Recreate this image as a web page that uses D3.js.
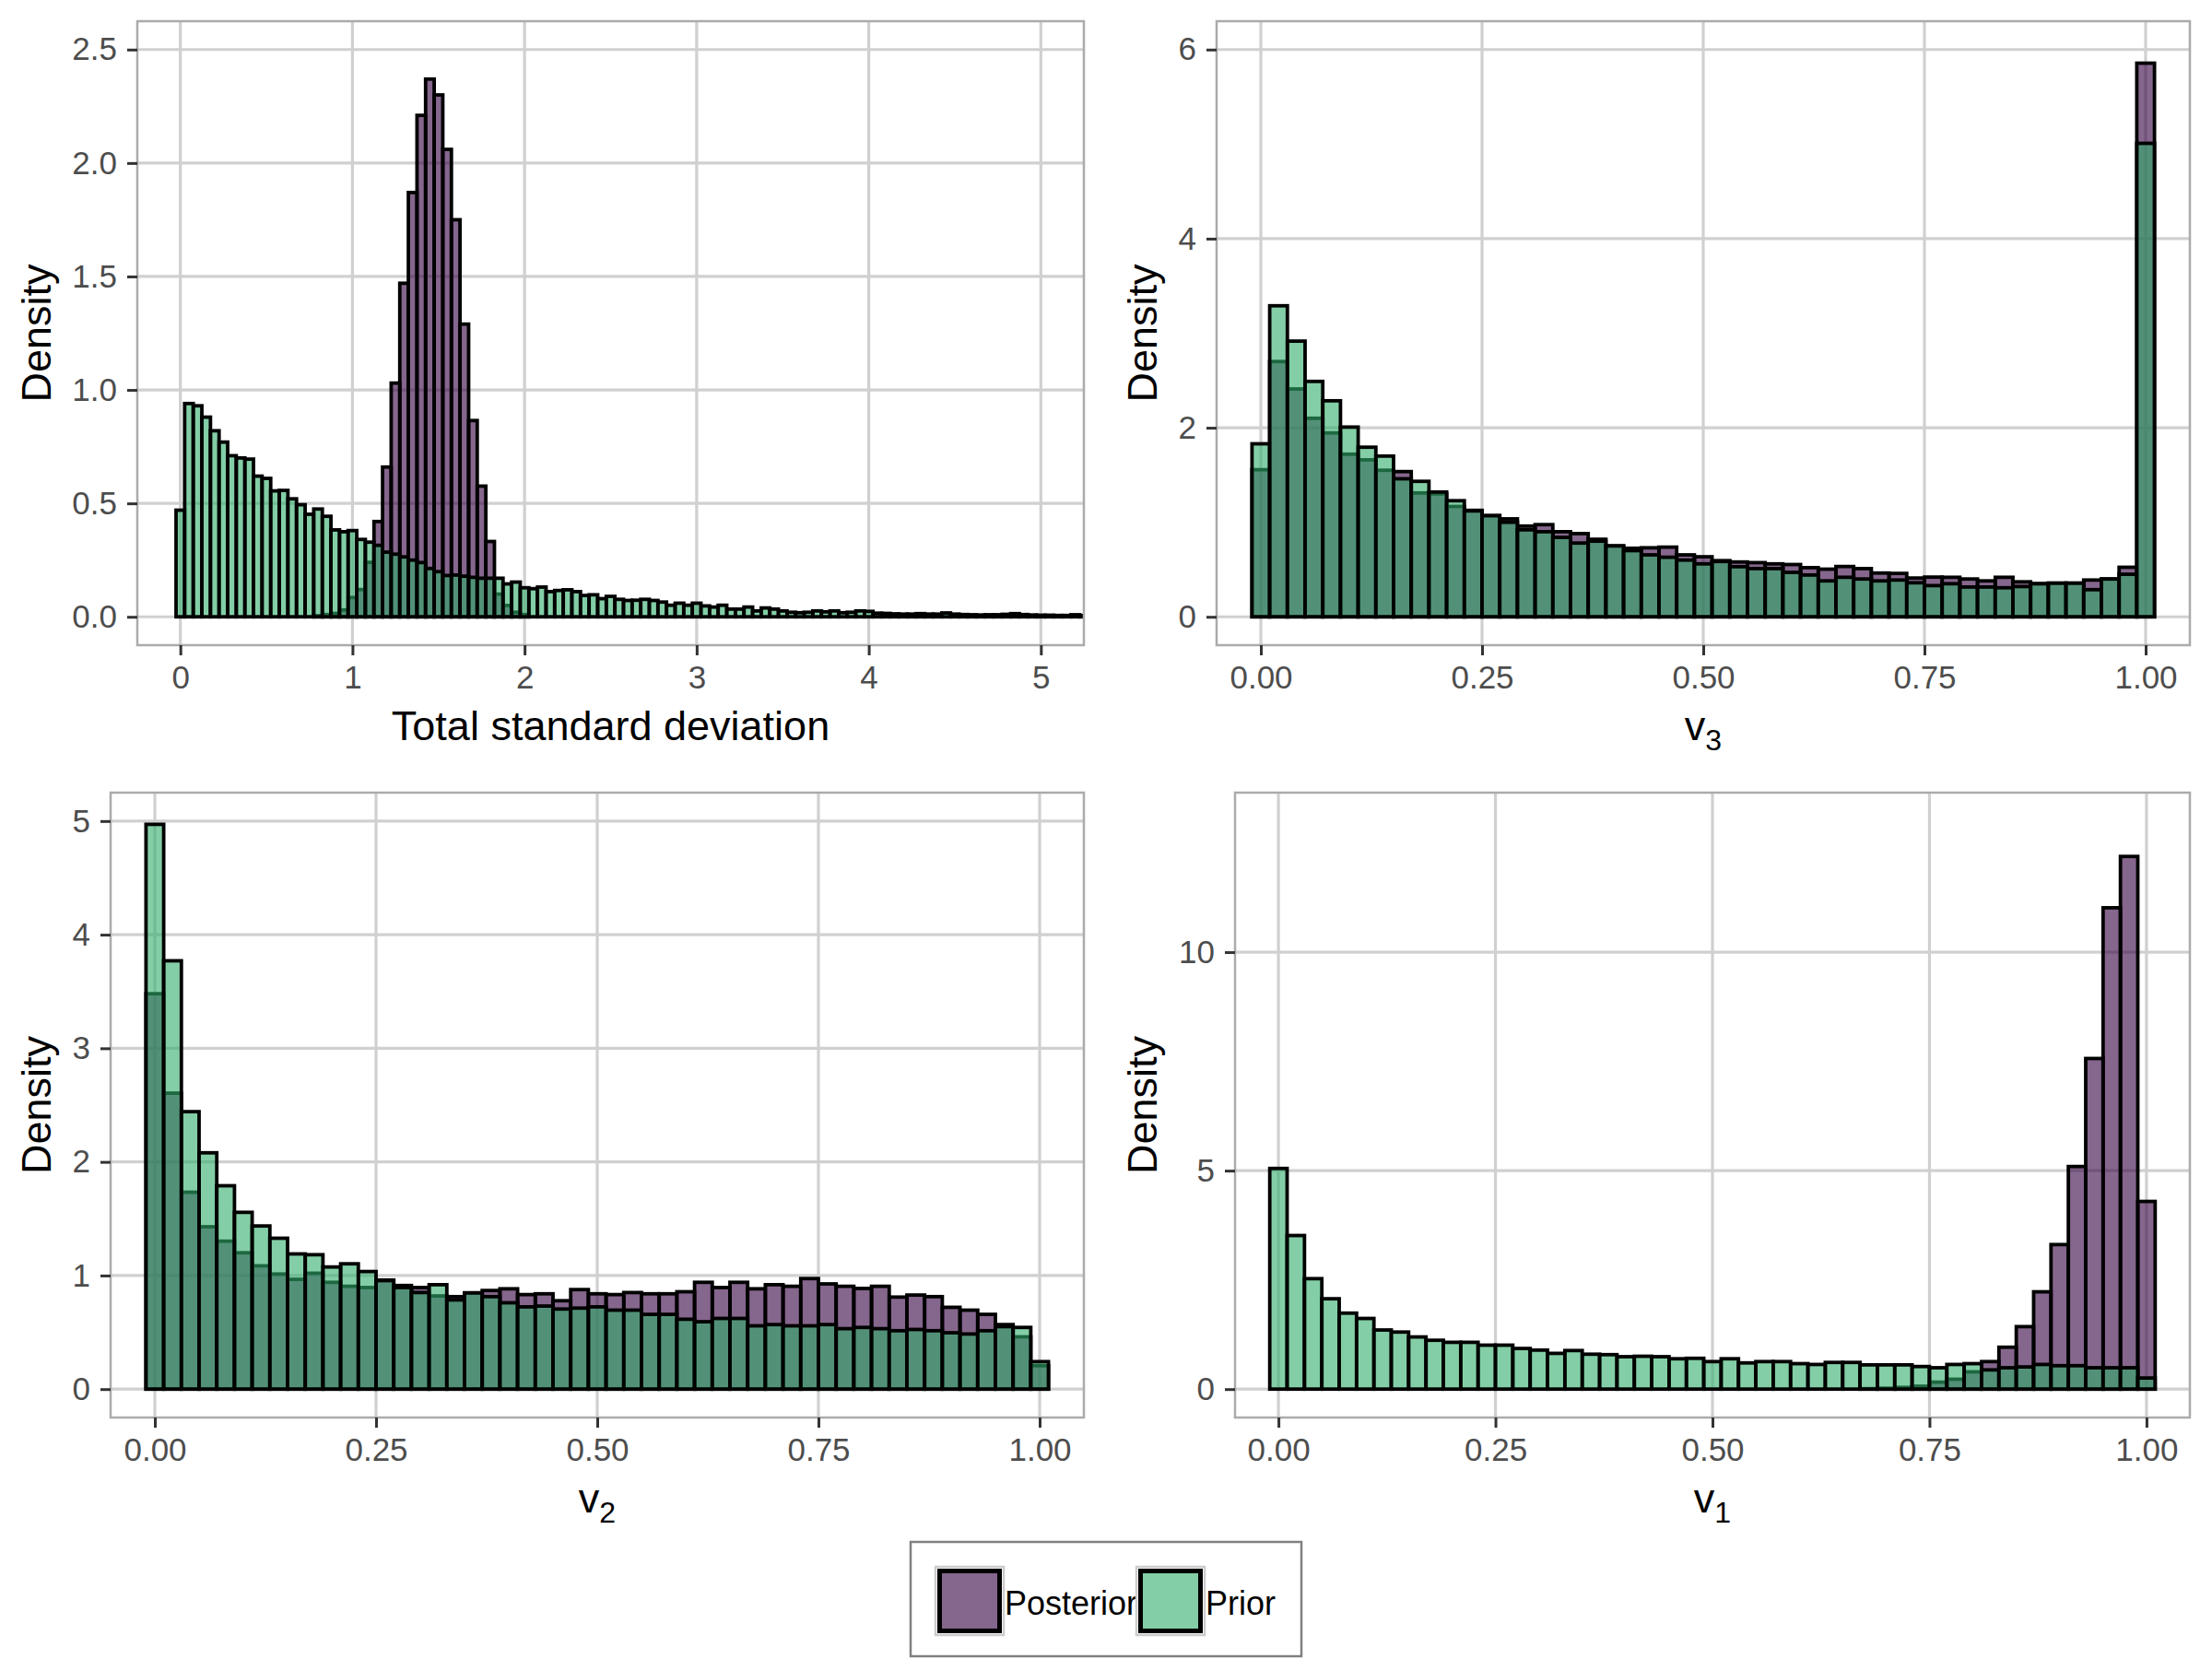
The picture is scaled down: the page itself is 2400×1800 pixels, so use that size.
<!DOCTYPE html>
<html>
<head>
<meta charset="utf-8">
<script src="https://cdn.jsdelivr.net/npm/d3@7"></script>
<style>
  body { margin: 0; background: #fff; }
  svg { display: block; }
  text { font-family: "Liberation Sans", Arial, Helvetica, sans-serif; }
</style>
</head>
<body>
<div id="chart"></div>
<script>
// ---- data (densities) ----
const sdBinWidth = 0.05;
const sdPrior = [
  0.47, 0.94, 0.93, 0.88, 0.82, 0.77, 0.71, 0.70, 0.695, 0.62,
  0.61, 0.555, 0.557, 0.52, 0.494, 0.452, 0.475, 0.443, 0.383, 0.375,
  0.38, 0.341, 0.329, 0.315, 0.285, 0.276, 0.264, 0.25, 0.239, 0.213,
  0.199, 0.182, 0.184, 0.179, 0.174, 0.17, 0.17, 0.17, 0.145, 0.153,
  0.128, 0.124, 0.131, 0.111, 0.116, 0.119, 0.111, 0.094, 0.097, 0.08,
  0.09, 0.077, 0.072, 0.073, 0.077, 0.072, 0.065, 0.051, 0.06, 0.051,
  0.06, 0.048, 0.043, 0.051, 0.034, 0.034, 0.043, 0.026, 0.039, 0.034,
  0.026, 0.02, 0.018, 0.02, 0.026, 0.022, 0.026, 0.018, 0.02, 0.026,
  0.024, 0.016, 0.015, 0.013, 0.012, 0.012, 0.014, 0.012, 0.012, 0.017,
  0.012, 0.01, 0.009, 0.008, 0.009, 0.009, 0.011, 0.014, 0.01, 0.008,
  0.007, 0.007, 0.006, 0.006, 0.009, 0.006
];
const sdPosteriorFirstBin = 16;
const sdPosterior = [
  0.005, 0.01, 0.015, 0.03, 0.085, 0.12, 0.24, 0.42, 0.66, 1.03,
  1.47, 1.87, 2.21, 2.37, 2.30, 2.06, 1.75, 1.29, 0.865, 0.576,
  0.332, 0.10, 0.05, 0.02, 0.01
];

const vBinWidth = 0.02;
const v3Prior = [
  1.83, 3.29, 2.916, 2.49, 2.285, 2.007, 1.794, 1.70, 1.46, 1.433,
  1.32, 1.228, 1.12, 1.07, 1.00, 0.92, 0.90, 0.84, 0.78, 0.80,
  0.75, 0.70, 0.655, 0.63, 0.60, 0.56, 0.585, 0.53, 0.51, 0.51,
  0.47, 0.442, 0.38, 0.418, 0.40, 0.38, 0.389, 0.36, 0.33, 0.35,
  0.315, 0.315, 0.307, 0.32, 0.35, 0.356, 0.356, 0.287, 0.40, 0.45,
  5.008
];
const v3Posterior = [
  1.556, 2.70, 2.41, 2.10, 1.945, 1.72, 1.66, 1.55, 1.536, 1.31,
  1.30, 1.167, 1.126, 1.07, 1.036, 0.96, 0.975, 0.90, 0.88, 0.82,
  0.75, 0.725, 0.73, 0.737, 0.655, 0.635, 0.594, 0.58, 0.573, 0.56,
  0.553, 0.52, 0.504, 0.532, 0.51, 0.463, 0.459, 0.41, 0.42, 0.418,
  0.40, 0.38, 0.418, 0.37, 0.35, 0.356, 0.356, 0.389, 0.40, 0.524,
  5.856
];

const v2Prior = [
  4.971, 3.77, 2.442, 2.08, 1.79, 1.556, 1.436, 1.328, 1.19, 1.183,
  1.075, 1.103, 1.035, 0.955, 0.894, 0.85, 0.919, 0.785, 0.847, 0.814,
  0.76, 0.724, 0.731, 0.705, 0.713, 0.724, 0.695, 0.695, 0.658, 0.658,
  0.615, 0.593, 0.622, 0.622, 0.557, 0.568, 0.557, 0.557, 0.568, 0.532,
  0.543, 0.532, 0.514, 0.525, 0.514, 0.496, 0.485, 0.514, 0.55, 0.543,
  0.242
];
const v2Posterior = [
  3.48, 2.605, 1.733, 1.429, 1.302, 1.20, 1.085, 1.013, 0.966, 1.02,
  0.94, 0.905, 0.894, 0.96, 0.912, 0.894, 0.82, 0.814, 0.847, 0.868,
  0.883, 0.832, 0.839, 0.778, 0.876, 0.839, 0.832, 0.85, 0.839, 0.839,
  0.857, 0.94, 0.894, 0.94, 0.883, 0.919, 0.905, 0.973, 0.926, 0.905,
  0.886, 0.905, 0.81, 0.828, 0.814, 0.72, 0.695, 0.658, 0.568, 0.46,
  0.206
];

const v1Prior = [
  5.05, 3.515, 2.528, 2.068, 1.739, 1.617, 1.353, 1.306, 1.194, 1.118,
  1.071, 1.071, 1.006, 1.006, 0.93, 0.893, 0.818, 0.883, 0.799, 0.789,
  0.742, 0.752, 0.742, 0.695, 0.705, 0.63, 0.695, 0.60, 0.63, 0.63,
  0.583, 0.564, 0.611, 0.611, 0.555, 0.555, 0.555, 0.517, 0.489, 0.564,
  0.583, 0.44, 0.489, 0.508, 0.564, 0.536, 0.536, 0.489, 0.489, 0.489,
  0.254
];
const v1PosteriorFirstBin = 34;
const v1Posterior = [
  0.01, 0.02, 0.04, 0.066, 0.16, 0.226, 0.395, 0.63, 0.959, 1.43,
  2.227, 3.308, 5.094, 7.566, 11.015, 12.19, 4.295
];

const sdTicksX = [0, 1, 2, 3, 4, 5];
const sdTicksY = [0, 0.5, 1, 1.5, 2, 2.5];
const vTicksX = [0, 0.25, 0.5, 0.75, 1];
const v3TicksY = [0, 2, 4, 6];
const v2TicksY = [0, 1, 2, 3, 4, 5];
const v1TicksY = [0, 5, 10];

const seriesNames = ["Posterior", "Prior"];
const seriesColors = { Posterior: "#33003F", Prior: "#31AE6A" };

// ---- layout ----
const W = 2400, H = 1800;
const svg = d3.select("#chart").append("svg").attr("width", W).attr("height", H);

const panels = [
  { key: "sd", left: 149, right: 1176, top: 23, bottom: 700, xDom: [-0.25, 5.25], yDom: [-0.125, 2.625],
    bw: sdBinWidth, prior: sdPrior, post: sdPosterior, postFirst: sdPosteriorFirstBin,
    ticksX: sdTicksX, ticksY: sdTicksY, fx: d3.format("d"), fy: d3.format(".1f"),
    title: "Total standard deviation", sub: null, titleX: 0 },
  { key: "v3", left: 1320, right: 2376, top: 23, bottom: 700, xDom: [-0.05, 1.05], yDom: [-0.3, 6.3],
    bw: vBinWidth, prior: v3Prior, post: v3Posterior, postFirst: 0,
    ticksX: vTicksX, ticksY: v3TicksY, fx: d3.format(".2f"), fy: d3.format("d"),
    title: "v", sub: "3", titleX: 1200 },
  { key: "v2", left: 120, right: 1176, top: 860, bottom: 1538, xDom: [-0.05, 1.05], yDom: [-0.25, 5.25],
    bw: vBinWidth, prior: v2Prior, post: v2Posterior, postFirst: 0,
    ticksX: vTicksX, ticksY: v2TicksY, fx: d3.format(".2f"), fy: d3.format("d"),
    title: "v", sub: "2", titleX: 0 },
  { key: "v1", left: 1340, right: 2376, top: 860, bottom: 1538, xDom: [-0.05, 1.05], yDom: [-0.65, 13.65],
    bw: vBinWidth, prior: v1Prior, post: v1Posterior, postFirst: v1PosteriorFirstBin,
    ticksX: vTicksX, ticksY: v1TicksY, fx: d3.format(".2f"), fy: d3.format("d"),
    title: "v", sub: "1", titleX: 1200 }
];

function drawBars(g, x, y, bw, values, first, color) {
  g.append("g").selectAll("rect").data(values).join("rect")
    .attr("x", (d, i) => x((i + first) * bw - bw / 2))
    .attr("width", (d, i) => x((i + first) * bw + bw / 2) - x((i + first) * bw - bw / 2))
    .attr("y", d => y(d))
    .attr("height", d => y(0) - y(d))
    .attr("fill", color).attr("fill-opacity", 0.6)
    .attr("stroke", "#000").attr("stroke-width", 3.8);
}

panels.forEach(p => {
  const x = d3.scaleLinear().domain(p.xDom).range([p.left, p.right]);
  const y = d3.scaleLinear().domain(p.yDom).range([p.bottom, p.top]);
  const g = svg.append("g");

  // clip
  g.append("clipPath").attr("id", "clip-" + p.key)
    .append("rect").attr("x", p.left).attr("y", p.top)
    .attr("width", p.right - p.left).attr("height", p.bottom - p.top);

  // grid
  const grid = g.append("g").attr("stroke", "#D0D0D0").attr("stroke-width", 3.2);
  grid.selectAll(".gx").data(p.ticksX).join("line")
    .attr("x1", d => x(d)).attr("x2", d => x(d)).attr("y1", p.top).attr("y2", p.bottom);
  grid.selectAll(".gy").data(p.ticksY).join("line")
    .attr("y1", d => y(d)).attr("y2", d => y(d)).attr("x1", p.left).attr("x2", p.right);

  // bars: posterior first, prior drawn on top
  const bars = g.append("g").attr("clip-path", `url(#clip-${p.key})`);
  drawBars(bars, x, y, p.bw, p.post, p.postFirst, seriesColors.Posterior);
  drawBars(bars, x, y, p.bw, p.prior, 0, seriesColors.Prior);

  // border
  g.append("rect").attr("x", p.left).attr("y", p.top)
    .attr("width", p.right - p.left).attr("height", p.bottom - p.top)
    .attr("fill", "none").attr("stroke", "#ABABAB").attr("stroke-width", 2.5);

  // axes
  const ax = g.append("g").attr("transform", `translate(0,${p.bottom})`)
    .call(d3.axisBottom(x).tickValues(p.ticksX).tickFormat(p.fx).tickSize(11).tickPadding(11));
  const ay = g.append("g").attr("transform", `translate(${p.left},0)`)
    .call(d3.axisLeft(y).tickValues(p.ticksY).tickFormat(p.fy).tickSize(11).tickPadding(11));
  [ax, ay].forEach(a => {
    a.select(".domain").remove();
    a.selectAll(".tick line").attr("stroke", "#333333").attr("stroke-width", 3);
    a.selectAll(".tick text").attr("fill", "#4D4D4D").style("font-size", "35px")
      .style("font-family", '"Liberation Sans", Arial, sans-serif');
  });

  // x title
  const t = g.append("text")
    .attr("x", (p.left + p.right) / 2).attr("y", p.bottom + 103)
    .attr("text-anchor", "middle").attr("fill", "#000").style("font-size", "45px");
  t.append("tspan").text(p.title);
  if (p.sub) t.append("tspan").attr("dy", 11).style("font-size", "32px").text(p.sub);

  // y title
  g.append("text")
    .attr("transform", `translate(${p.titleX + 55},${(p.top + p.bottom) / 2}) rotate(-90)`)
    .attr("text-anchor", "middle").attr("fill", "#000").style("font-size", "45px")
    .text("Density");
});

// ---- legend ----
const leg = svg.append("g");
leg.append("rect").attr("x", 988).attr("y", 1673).attr("width", 424).attr("height", 124)
  .attr("fill", "#fff").attr("stroke", "#808080").attr("stroke-width", 2.5);
const legX = d3.scaleOrdinal().domain(seriesNames).range([1015, 1233]);
const item = leg.selectAll("g.item").data(seriesNames).join("g")
  .attr("transform", d => `translate(${legX(d)},1700)`);
item.append("rect").attr("width", 74).attr("height", 74)
  .attr("fill", "#fff").attr("stroke", "#CCCCCC").attr("stroke-width", 2.5);
item.append("rect").attr("x", 4.5).attr("y", 4.5).attr("width", 65).attr("height", 65)
  .attr("fill", d => seriesColors[d]).attr("fill-opacity", 0.6)
  .attr("stroke", "#000").attr("stroke-width", 5);
item.append("text").attr("x", 75).attr("y", 51.5)
  .attr("fill", "#000").style("font-size", "36px").text(d => d);
</script>
</body>
</html>
